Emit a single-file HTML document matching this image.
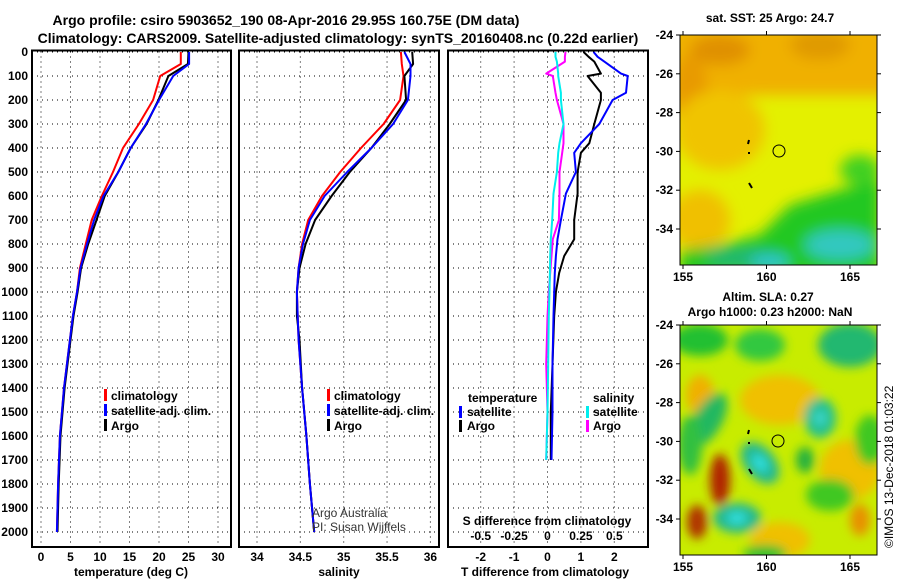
<!DOCTYPE html>
<html><head><meta charset="utf-8"><style>
html,body{margin:0;padding:0;background:#fff;}
svg{display:block;font-family:"Liberation Sans",sans-serif;font-weight:bold;}
</style></head><body>
<svg id="chart" width="900" height="580" viewBox="0 0 900 580" xmlns="http://www.w3.org/2000/svg">
<defs>
<filter id="bl" x="-50%" y="-50%" width="200%" height="200%"><feGaussianBlur stdDeviation="7"/></filter>
<filter id="bl2" x="-50%" y="-50%" width="200%" height="200%"><feGaussianBlur stdDeviation="5"/></filter>
<clipPath id="c1"><rect x="680" y="35" width="197" height="230"/></clipPath>
<clipPath id="c2"><rect x="680" y="325" width="197" height="230"/></clipPath>
</defs>
<text x="286" y="25" text-anchor="middle" font-size="14">Argo profile: csiro 5903652_190 08-Apr-2016 29.95S 160.75E (DM data)</text>
<text x="338" y="43" text-anchor="middle" font-size="14">Climatology: CARS2009. Satellite-adjusted climatology: synTS_20160408.nc (0.22d earlier)</text>
<g id="grids"></g>
<g id="lines"></g>
<g id="frames"></g>
<g id="labels" font-size="12"></g>

<g font-size="12">
<rect x="104" y="389" width="3" height="12" fill="#f00"/><text x="111" y="400">climatology</text>
<rect x="104" y="404" width="3" height="12" fill="#00f"/><text x="111" y="415">satellite-adj. clim.</text>
<rect x="104" y="419" width="3" height="12" fill="#000"/><text x="111" y="430">Argo</text>
</g>
<g font-size="12">
<rect x="327" y="389" width="3" height="12" fill="#f00"/><text x="334" y="400">climatology</text>
<rect x="327" y="404" width="3" height="12" fill="#00f"/><text x="334" y="415">satellite-adj. clim.</text>
<rect x="327" y="419" width="3" height="12" fill="#000"/><text x="334" y="430">Argo</text>
</g>
<g font-size="12">
<text x="468" y="402">temperature</text>
<rect x="459" y="406" width="3" height="12" fill="#00f"/><text x="467" y="416">satellite</text>
<rect x="459" y="420" width="3" height="12" fill="#000"/><text x="467" y="430">Argo</text>
<text x="593" y="402">salinity</text>
<rect x="586" y="406" width="3" height="12" fill="#0ee"/><text x="593" y="416">satellite</text>
<rect x="586" y="420" width="3" height="12" fill="#f0f"/><text x="593" y="430">Argo</text>
</g>
<g font-size="12" font-weight="normal" fill="#333">
<text x="312" y="517">Argo Australia</text><text x="312" y="531">PI: Susan Wijffels</text>
</g>
<text font-size="12" font-weight="normal" transform="translate(893,548) rotate(-90)">©IMOS 13-Dec-2018 01:03:22</text>

<g clip-path="url(#c1)">
<rect x="680" y="35" width="197" height="230" fill="#e4f000"/>
<g filter="url(#bl)">
<rect x="670" y="25" width="220" height="70" fill="#f0b000"/>
<ellipse cx="720" cy="50" rx="30" ry="15" fill="#e09000"/>
<ellipse cx="820" cy="45" rx="30" ry="15" fill="#e09a00"/>
<ellipse cx="690" cy="95" rx="18" ry="40" fill="#e89a00"/>
<ellipse cx="720" cy="130" rx="45" ry="40" fill="#f0c400"/>
<ellipse cx="700" cy="220" rx="30" ry="30" fill="#f0c000"/>
<polygon points="760,235 790,205 840,190 880,180 880,275 680,275 680,250 720,245" fill="#20c820"/>
<ellipse cx="860" cy="170" rx="20" ry="15" fill="#40d020"/>
<ellipse cx="745" cy="258" rx="40" ry="10" fill="#20b870"/>
<ellipse cx="840" cy="245" rx="35" ry="15" fill="#30c8c0"/>
<ellipse cx="770" cy="262" rx="20" ry="6" fill="#30c8e0"/>
</g>
<path d="M749,140 l-1,4 M749,152 v2 M749,183 l3,5" stroke="#000" stroke-width="2"/>
<circle cx="779" cy="151" r="6" fill="none" stroke="#000" stroke-width="1"/>
</g>
<g clip-path="url(#c2)">
<rect x="680" y="325" width="197" height="230" fill="#c8ec00"/>
<g filter="url(#bl2)">
<ellipse cx="780" cy="400" rx="40" ry="25" fill="#f0c000"/>
<ellipse cx="700" cy="395" rx="14" ry="20" fill="#f0b000"/>
<ellipse cx="850" cy="470" rx="30" ry="30" fill="#f0c000"/>
<ellipse cx="780" cy="540" rx="30" ry="18" fill="#f0c000"/>
<ellipse cx="860" cy="520" rx="10" ry="16" fill="#e89000"/>
<ellipse cx="700" cy="340" rx="28" ry="16" fill="#20c030"/>
<ellipse cx="760" cy="345" rx="25" ry="16" fill="#30c840"/>
<ellipse cx="850" cy="345" rx="32" ry="22" fill="#20b870"/>
<ellipse cx="870" cy="440" rx="15" ry="25" fill="#40c820"/>
<ellipse cx="708" cy="420" rx="14" ry="30" fill="#20b860" transform="rotate(30 708 420)"/>
<ellipse cx="690" cy="445" rx="12" ry="30" fill="#30c040"/>
<ellipse cx="760" cy="463" rx="24" ry="15" fill="#20b890" transform="rotate(50 760 463)"/>
<ellipse cx="760" cy="463" rx="10" ry="6" fill="#30e0e0" transform="rotate(50 760 463)"/>
<ellipse cx="820" cy="418" rx="16" ry="20" fill="#20c090"/>
<ellipse cx="820" cy="418" rx="6" ry="7" fill="#40d8d0"/>
<ellipse cx="737" cy="518" rx="24" ry="15" fill="#20b890"/>
<ellipse cx="737" cy="518" rx="10" ry="6" fill="#30e0e0"/>
<ellipse cx="805" cy="460" rx="9" ry="13" fill="#20b040"/>
<ellipse cx="830" cy="495" rx="24" ry="16" fill="#40c820"/>
<ellipse cx="765" cy="553" rx="22" ry="8" fill="#20c030"/>
<ellipse cx="720" cy="480" rx="10" ry="26" fill="#b02000"/>
<ellipse cx="697" cy="522" rx="10" ry="17" fill="#b03000"/>
</g>
<path d="M749,430 l-1,4 M749,442 v2 M749,469 l3,5" stroke="#000" stroke-width="2"/>
<circle cx="778" cy="441" r="6" fill="none" stroke="#000" stroke-width="1"/>
</g>
<g font-size="12" text-anchor="middle">
<text x="770" y="22">sat. SST: 25 Argo: 24.7</text>
<text x="768" y="301">Altim. SLA: 0.27</text>
<text x="770" y="316">Argo h1000: 0.23 h2000: NaN</text>
</g>
<g id="maplabels" font-size="12"></g>

<script>
const depths = [0,50,100,200,300,400,500,600,700,800,900,1000,1100,1200,1400,1600,1800,2000];
const tempClim = [23.7,23.7,20.2,19.0,16.6,13.9,12.2,10.3,8.6,7.6,6.6,6.1,5.4,4.9,3.9,3.2,2.9,2.7];
const tempSat  = [25.1,25.1,22.4,20.0,17.8,15.2,13.1,10.6,9.0,7.8,6.7,6.1,5.4,4.9,3.9,3.2,2.9,2.7];
const tempArgo = [25.0,24.9,21.6,19.9,17.9,15.2,13.1,10.8,9.4,8.0,6.8,6.2,5.5,5.0,4.0,3.3,3.0,2.8];
const salClim = [35.66,35.67,35.69,35.65,35.46,35.20,34.96,34.75,34.59,34.52,34.48,34.46,34.47,34.48,34.52,34.57,34.61,34.66];
const salSat  = [35.70,35.77,35.77,35.74,35.57,35.32,35.04,34.78,34.61,34.53,34.48,34.46,34.47,34.48,34.52,34.57,34.61,34.66];
const salArgo = [35.79,35.80,35.70,35.72,35.53,35.32,35.07,34.86,34.67,34.56,34.49,34.46,34.46,34.49,34.52,34.57,34.61,34.66];
const diffDepths = [0,20,40,90,100,170,200,300,380,420,500,590,700,780,850,920,1000,1100,1300,1500,1700];
const dTArgo = [1.08,1.23,1.4,1.6,1.2,1.6,1.6,1.4,1.25,1.0,0.9,0.9,0.8,0.8,0.5,0.35,0.25,0.2,0.15,0.1,0.1];
const dTSat  = [1.38,1.5,1.7,2.2,2.4,2.35,1.95,1.55,1.0,0.8,0.85,0.55,0.4,0.3,0.25,0.22,0.2,0.18,0.15,0.15,0.12];
const dSSat  = [0.06,0.06,0.07,0.08,0.08,0.1,0.1,0.12,0.09,0.08,0.07,0.045,0.035,0.025,0.02,0.018,0.015,0.01,0.005,0.0,-0.01];
const dSArgo = [0.135,0.13,0.13,-0.01,0.04,0.06,0.07,0.12,0.12,0.11,0.09,0.09,0.085,0.04,0.03,0.02,0.01,0.0,-0.01,0.0,-0.01];
const depthTicks = [0,100,200,300,400,500,600,700,800,900,1000,1100,1200,1300,1400,1500,1600,1700,1800,1900,2000];
const tempTicks = [0,5,10,15,20,25,30];
const salTicks = [34,34.5,35,35.5,36];
const salTickLabels = ["34","34.5","35","35.5","36"];
const dTTicks = [-2,-1,0,1,2];
const dSTicks = [-0.5,-0.25,0,0.25,0.5];
const dSTickLabels = ["-0.5","-0.25","0","0.25","0.5"];
const latTicks = [-24,-26,-28,-30,-32,-34];
const lonTicks = [155,160,165];

const NS="http://www.w3.org/2000/svg";
const yD = d => 52 + d*0.24;
const xT = t => 41 + t*5.9;
const xS = s => 257 + (s-34)*86.7;
const xDT = t => 547.5 + t*33.4;
const xDS = s => 547.5 + s*133.6;
const yLat1 = l => 35 + (-24-l)*19.4;
const yLat2 = l => 325 + (-24-l)*19.4;
const xLon = l => 683 + (l-155)*16.7;
const panels=[{x:32,w:199,name:'temperature'},{x:239,w:200,name:'salinity'},{x:448,w:200,name:'difference'}];
const P0=52-0.5, PB=547;
function mk(tag,attrs,parent){const e=document.createElementNS(NS,tag);for(const k in attrs)e.setAttribute(k,attrs[k]);parent.appendChild(e);return e;}
const grids=document.getElementById('grids'), lines=document.getElementById('lines'), frames=document.getElementById('frames'), labels=document.getElementById('labels');
panels.forEach(p=>{
  depthTicks.forEach(d=>{
    const l=mk('line',{x1:p.x,x2:p.x+p.w,y1:yD(d),y2:yD(d),stroke:'#000','stroke-width':1,'stroke-dasharray':'1,4'},grids);
    
    
  });
});
function vgrid(arr,fx){arr.forEach(v=>{const l=mk('line',{x1:fx(v),x2:fx(v),y1:P0,y2:PB,stroke:'#000','stroke-width':1,'stroke-dasharray':'1,4'},grids);
  
  });}
vgrid(tempTicks,xT); vgrid(salTicks,xS); vgrid(dTTicks,xDT);
panels.forEach(p=>{const r=mk('rect',{x:p.x,y:P0-1,width:p.w,height:PB-P0+1,fill:'none',stroke:'#000','stroke-width':2},frames);
  
  });
function series(xs,ds,fx,color,name,w){
  const pts=xs.map((v,i)=>fx(v).toFixed(1)+','+yD(ds[i]).toFixed(1)).join(' ');
  const pl=mk('polyline',{points:pts,fill:'none',stroke:color,'stroke-width':w||2,'stroke-linejoin':'round'},lines);
  
  
}
series(tempClim,depths,xT,'#f00','temp-climatology-line');
series(tempArgo,depths,xT,'#000','temp-argo-line');
series(tempSat,depths,xT,'#00f','temp-satellite-line');
series(salClim,depths,xS,'#f00','sal-climatology-line');
series(salArgo,depths,xS,'#000','sal-argo-line');
series(salSat,depths,xS,'#00f','sal-satellite-line');
series(dTArgo,diffDepths,xDT,'#000','temp-argo-diff-line');
series(dTSat,diffDepths,xDT,'#00f','temp-satellite-diff-line');
series(dSArgo,diffDepths,xDS,'#f0f','sal-argo-diff-line');
series(dSSat,diffDepths,xDS,'#0ee','sal-satellite-diff-line');
function txt(s,x,y,anchor,name,parent){const t=mk('text',{x:x,y:y,'text-anchor':anchor||'middle'},parent||labels);t.textContent=s;
  
  return t;}
depthTicks.forEach(d=>txt(String(d),28,yD(d)+4,'end','depth-tick-label'));
tempTicks.forEach(t=>txt(String(t),xT(t),561,'middle','temp-tick-label'));
salTicks.forEach((s,i)=>txt(salTickLabels[i],xS(s),561,'middle','sal-tick-label'));
dTTicks.forEach(t=>txt(String(t),xDT(t),561,'middle','dT-tick-label'));
dSTicks.forEach((s,i)=>txt(dSTickLabels[i],xDS(s),540,'middle','dS-tick-label'));
txt('temperature (deg C)',131,576,'middle','temp-axis-title');
txt('salinity',339,576,'middle','sal-axis-title');
txt('T difference from climatology',545,576,'middle','dT-axis-title');
txt('S difference from climatology',547,525,'middle','dS-axis-title');
const ml=document.getElementById('maplabels');
[[35,yLat1],[325,yLat2]].forEach(([top,fy],mi)=>{
  const r=mk('rect',{x:680,y:top,width:197,height:230,fill:'none',stroke:'#000','stroke-width':1},ml);
  
  
  latTicks.forEach(l=>{txt(String(l),673,fy(l)+4,'end','lat-tick-label',ml);
    mk('line',{x1:676,x2:680,y1:fy(l),y2:fy(l),stroke:'#000'},ml);
    mk('line',{x1:877,x2:881,y1:fy(l),y2:fy(l),stroke:'#000'},ml);});
  lonTicks.forEach(l=>{txt(String(l),xLon(l),top+246,'middle','lon-tick-label',ml);
    mk('line',{x1:xLon(l),x2:xLon(l),y1:top+230,y2:top+234,stroke:'#000'},ml);
    mk('line',{x1:xLon(l),x2:xLon(l),y1:top-4,y2:top,stroke:'#000'},ml);});
});
</script>
</svg>
</body></html>
